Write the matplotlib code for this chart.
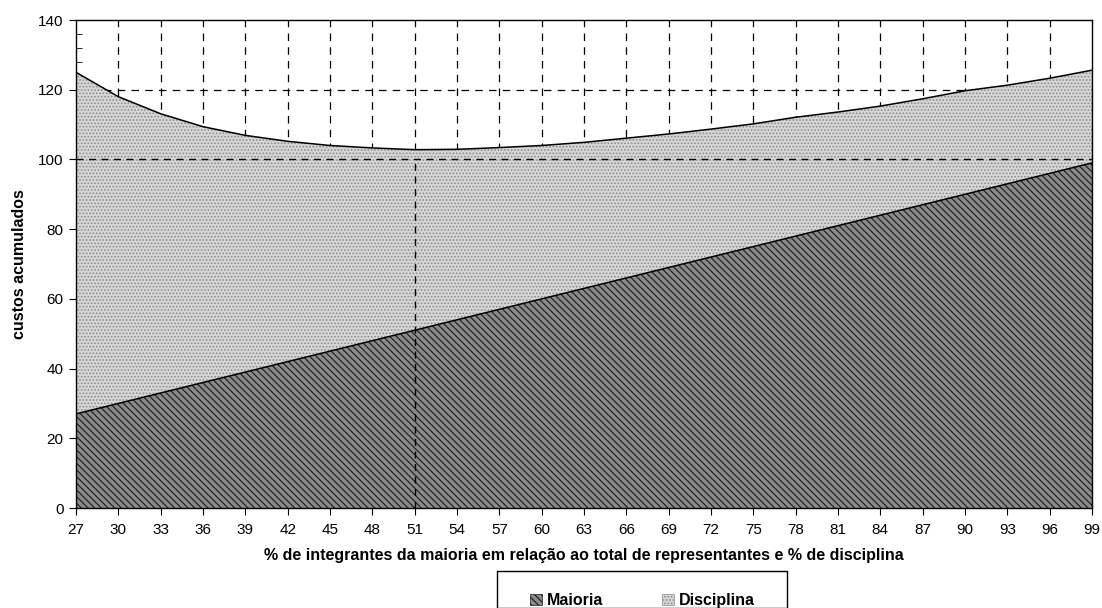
import matplotlib
matplotlib.use("Agg")
import matplotlib.pyplot as plt
import numpy as np
from matplotlib.patches import Patch, Rectangle

plt.rcParams['font.family'] = ['Liberation Sans', 'DejaVu Sans']

x_vals = [27, 30, 33, 36, 39, 42, 45, 48, 51, 54, 57, 60, 63, 66, 69, 72, 75, 78, 81, 84, 87, 90, 93, 96, 99]
maioria = [27, 30, 33, 36, 39, 42, 45, 48, 51, 54, 57, 60, 63, 66, 69, 72, 75, 78, 81, 84, 87, 90, 93, 96, 99]
disciplina = [98.0, 88.0, 80.1, 73.4, 67.9, 63.2, 59.0, 55.3, 51.8, 48.9, 46.4, 44.0, 41.9, 40.1,
              38.3, 36.7, 35.2, 34.1, 32.6, 31.3, 30.4, 29.7, 28.3, 27.3, 26.6]
x_ticklabels = [str(v) for v in x_vals]

x = np.array(x_vals, dtype=float)
m = np.array(maioria, dtype=float)
d = np.array(disciplina, dtype=float)
tot = m + d

fig = plt.figure(figsize=(11.02, 6.08), dpi=100)
ax = fig.add_axes([76/1102, 100/608, 1016/1102, 488/608])

plt.rcParams['hatch.linewidth'] = 0.8

# grid (behind areas)
for xv in x_vals[1:-1]:
    ax.axvline(xv, color='black', lw=0.9, ls=(0, (6, 5)), zorder=1)
for yv in [20, 40, 60, 80, 120]:
    ax.axhline(yv, color='black', lw=0.9, ls=(0, (6, 5)), zorder=1)

ax.fill_between(x, 0, m, facecolor='#8a8a8a', edgecolor='#1a1a1a', hatch='\\\\\\\\\\', lw=0, zorder=2)
ax.fill_between(x, m, tot, facecolor='#d6d6d6', edgecolor='#8c8c8c', hatch='.....', lw=0, zorder=2)
ax.plot(x, m, color='black', lw=1.1, zorder=3)
ax.plot(x, tot, color='black', lw=1.1, zorder=3)

# reference lines on top
ax.plot([27, 99], [100, 100], color='black', lw=1.0, ls=(0, (5, 4)), zorder=4)
ax.plot([51, 51], [0, 100], color='black', lw=1.0, ls=(0, (5, 4)), zorder=4)

ax.set_xlim(27, 99)
ax.set_ylim(0, 140)
ax.set_xticks(x_vals)
ax.set_xticklabels(x_ticklabels)
ax.set_yticks(range(0, 141, 20))
ax.set_yticks(range(0, 141, 4), minor=True)
ax.tick_params(axis='y', which='major', direction='out', length=5, labelsize=11, pad=4)
ax.tick_params(axis='y', which='minor', direction='in', length=4)
ax.tick_params(axis='x', which='major', direction='out', length=5, labelsize=11, pad=6)
for s in ax.spines.values():
    s.set_color('black')
    s.set_linewidth(1.0)
    s.set_zorder(5)

ax.set_ylabel('custos acumulados', fontsize=11.5, fontweight='bold', labelpad=8)
ax.set_xlabel('% de integrantes da maioria em relação ao total de representantes e % de disciplina',
              fontsize=11.5, fontweight='bold', labelpad=8)

handles = [Patch(facecolor='#8a8a8a', edgecolor='#1a1a1a', hatch='\\\\\\\\\\', lw=0.5),
           Patch(facecolor='#d6d6d6', edgecolor='#8c8c8c', hatch='.....', lw=0.5)]
leg = fig.legend(handles, ['Maioria', 'Disciplina'], loc='upper left', ncol=2,
                 bbox_to_anchor=(527/1102, 1 - 590/608), frameon=False,
                 prop={'weight': 'bold', 'size': 11.5},
                 handlelength=0.75, handleheight=0.75, columnspacing=3.7, handletextpad=0.3,
                 borderpad=0.2, borderaxespad=0)
fig.patches.append(Rectangle((497/1102, 0), (787-497)/1102, (608-583)/608 + 0.02,
                             transform=fig.transFigure, facecolor='none',
                             edgecolor='black', lw=1.0, clip_on=False))

fig.savefig('out.png', dpi=100)
